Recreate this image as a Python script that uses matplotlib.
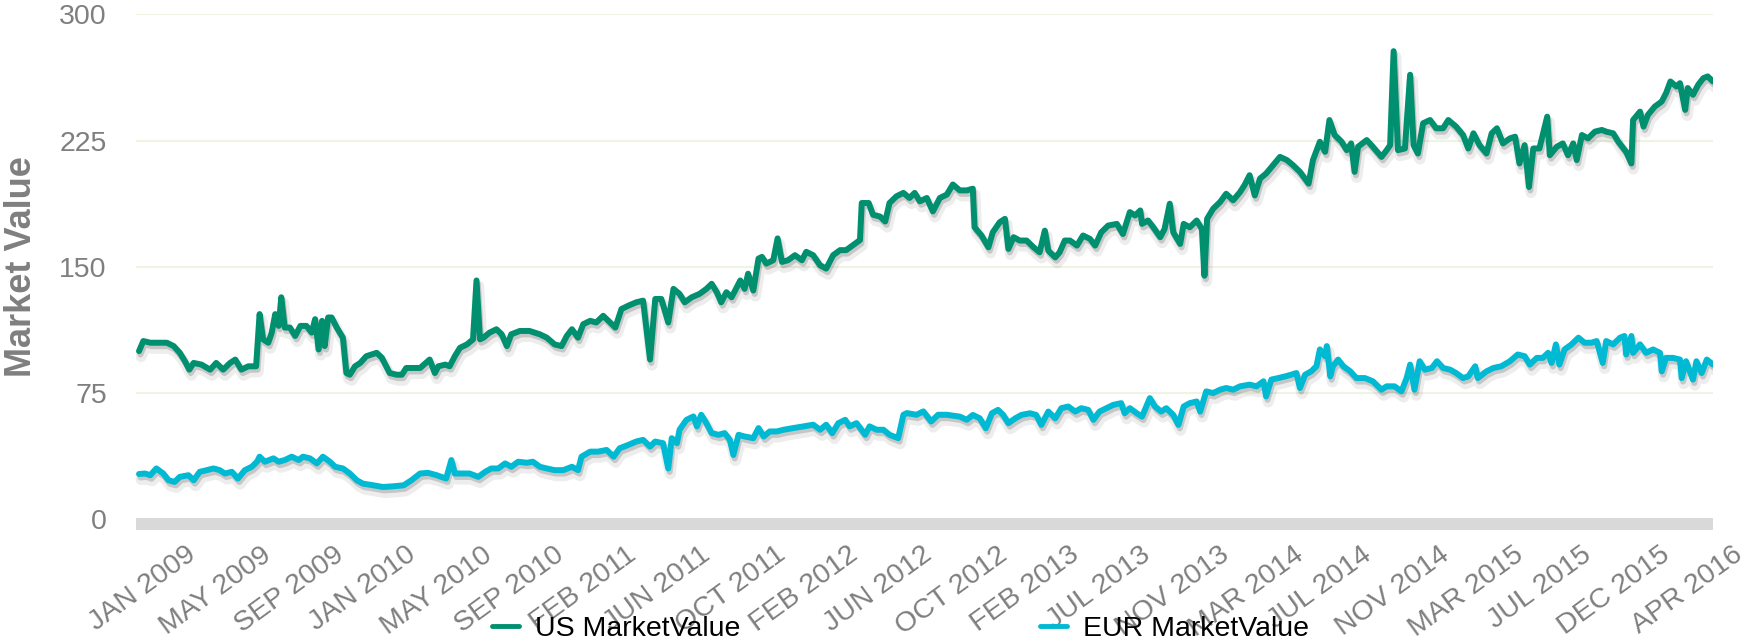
import matplotlib
matplotlib.use('Agg')

import matplotlib.pyplot as plt
import matplotlib.patheffects as pe

plt.rcParams['font.family'] = ['Liberation Sans', 'DejaVu Sans']

# trading-day index (0 = first day of Jan 2009) and market value
us_day = [0, 5, 13, 22, 32, 40, 47, 53, 58, 63, 72, 82, 89, 97, 105, 111, 118, 126, 135, 137,
          139, 143, 149, 153, 157, 161, 164, 168, 174, 180, 186, 193, 199, 203, 207, 211, 214, 218, 222, 228,
          235, 239, 243, 249, 255, 262, 268, 274, 280, 285, 289, 297, 303, 308, 316, 324, 335, 341, 345, 353,
          358, 364, 370, 378, 385, 389, 393, 397, 404, 412, 418, 424, 429, 439, 450,
          462, 470, 479, 487, 493, 499, 506, 512, 520, 527, 535, 541, 549, 556, 564, 573, 581, 589, 595, 602,
          610, 616, 623, 629, 637, 646, 654, 660, 666, 671, 677, 683, 693, 698, 702, 708, 714, 718, 723, 731,
          736, 741, 748, 756, 764, 769, 777, 785, 792, 800, 808, 815, 823, 831, 833, 841, 846, 854, 860, 865,
          873, 881, 888, 894, 900, 908, 915, 923, 931, 938,
          946, 954, 961, 963, 971, 979, 984, 992, 998, 1002, 1008, 1015, 1023, 1031, 1038, 1044, 1048, 1056, 1061, 1067,
          1073, 1081, 1088, 1096, 1102, 1109, 1117, 1127, 1134, 1142, 1148, 1154, 1156, 1163, 1169, 1177, 1182, 1188, 1192, 1200,
          1204, 1211, 1219, 1225, 1228, 1231, 1238, 1246, 1253, 1261, 1269, 1274, 1280, 1286, 1292, 1299, 1307, 1315, 1323, 1330,
          1338, 1348, 1353, 1361, 1367, 1372, 1378, 1386, 1392, 1397, 1401,
          1405, 1415, 1422, 1432, 1438, 1442, 1446, 1451, 1459, 1465, 1469, 1474, 1480, 1488, 1495, 1503, 1509, 1518, 1526, 1532,
          1538, 1545, 1553, 1559, 1565, 1572, 1580, 1586, 1591, 1597, 1602, 1607, 1614, 1623, 1626, 1634, 1641, 1647, 1653, 1657,
          1663, 1670, 1678, 1686, 1691, 1699, 1705, 1711, 1714, 1720, 1722, 1730, 1734, 1739, 1747, 1755, 1760, 1765, 1772, 1776,
          1782, 1785, 1791, 1797, 1803, 1808, 1814]
us_value = [100, 106, 105, 105, 105, 103, 99, 94, 89, 93, 92, 89, 93, 89, 93, 95, 89, 91, 91, 107,
            122, 107, 105, 111, 122, 115, 132, 114, 114, 109, 115, 115, 111, 119, 101, 118, 103, 120, 120, 114,
            108, 87, 86, 91, 93, 97, 98, 99, 96, 91, 87, 86, 86, 90, 90, 90, 95, 87, 91, 92,
            91, 97, 102, 104, 107, 142, 107, 108, 111, 113, 110, 103, 110, 112, 112,
            110, 108, 104, 103, 109, 113, 108, 116, 118, 117, 121, 118, 114, 125, 127, 129, 130, 95, 131, 131,
            117, 137, 134, 129, 132, 134, 137, 140, 135, 129, 135, 132, 142, 137, 146, 136, 155, 156, 152, 154,
            167, 153, 154, 157, 154, 159, 157, 151, 149, 157, 160, 160, 163, 166, 188, 188, 181, 180, 177, 188,
            192, 194, 191, 194, 189, 191, 183, 191, 193, 199,
            195.5, 195.5, 196.5, 173.6, 168.7, 161.7, 170.6, 176.6, 178.6, 160.7, 167.7, 165.7, 165.7, 161.7, 158.7, 171.6, 159.7, 155.7, 158.7, 165.7,
            165.7, 162.7, 168.7, 166.7, 162.7, 170.6, 174.6, 175.6, 169.6, 182.6, 180.6, 183.6, 175.6, 177.6, 173.6, 167.7, 172.6, 187.6, 170.6, 163.7,
            175.6, 173.6, 177.6, 172.6, 144.8, 178.6, 184.6, 188.6, 193.5, 189.6, 194.5, 198.5, 204.5, 192.5, 202.5, 205.5, 210.5, 215.4, 213.5, 210.5,
            206.5, 199.5, 213.5, 224.4, 218.4, 237.3, 228.4, 224.4, 219.4, 223.4, 206.5,
            221.4, 225.4, 221.4, 215.4, 219.4, 222.4, 278.2, 219.4, 220.4, 264.2, 222.4, 217.4, 235.4, 237.3, 232.4, 232.4, 237.3, 233.4, 228.4, 220.4,
            229.4, 222.4, 217.4, 229.4, 232.4, 223.4, 226.4, 227.4, 211.5, 222.4, 197.5, 220.4, 220.4, 239.3, 216.4, 221.4, 223.4, 216.4, 223.4, 213.5,
            228.4, 226.4, 230.4, 231.4, 230.4, 229.4, 224.4, 220.4, 218.4, 211.5, 237.3, 242.3, 233.4, 240.3, 245.3, 248.3, 253.3, 260.2, 257.2, 259.2,
            243.3, 256.3, 252.3, 258.2, 262.2, 263.2, 260.2]

eur_day = [0, 7, 13, 20, 28, 34, 41, 47, 57, 63, 70, 78, 86, 93, 99, 107, 114, 122, 130, 136,
           139, 145, 155, 161, 168, 176, 184, 189, 197, 205, 212, 220, 226, 235, 243, 251, 258, 270, 281, 293,
           305, 314, 324, 333, 343, 354, 360, 364, 374, 381, 391, 399, 406, 414, 422, 429, 437, 447, 454,
           462, 470, 479, 489, 499, 506, 510, 520, 529, 539, 547, 554, 564, 573, 581, 589, 595, 604, 610, 614,
           620, 623, 631, 639, 643, 648, 654, 660, 668, 675, 681, 685, 691, 698, 708, 714, 720, 727, 735, 743,
           754, 766, 777, 785, 792, 799, 806, 814, 819, 827, 837, 842, 850, 858, 865, 875, 881, 885, 896, 904,
           913, 921, 931,
           946, 954, 961, 969, 976, 983, 990, 996, 1002, 1010, 1017, 1027, 1034, 1040, 1048, 1056, 1063, 1071, 1079, 1086,
           1094, 1100, 1107, 1115, 1123, 1132, 1136, 1142, 1150, 1156, 1165, 1171, 1178, 1184, 1192, 1198, 1204, 1211, 1219, 1223,
           1230, 1238, 1246, 1253, 1261, 1269, 1280, 1288, 1296, 1299, 1305, 1313, 1321, 1328, 1334, 1338, 1344, 1351, 1357, 1361,
           1367, 1369, 1373, 1376, 1382, 1388, 1396,
           1403, 1413, 1422, 1432, 1438, 1447, 1455, 1461, 1465, 1470, 1476, 1482, 1490, 1496, 1503, 1511, 1518, 1526, 1532, 1540,
           1543, 1553, 1561, 1570, 1580, 1589, 1597, 1603, 1611, 1618, 1624, 1628, 1633, 1637, 1643, 1651, 1659, 1666, 1674, 1680,
           1687, 1691, 1699, 1707, 1712, 1714, 1720, 1722, 1730, 1737, 1745, 1753, 1755, 1760, 1768, 1776, 1778, 1783, 1791, 1795,
           1801, 1807, 1814]
eur_value = [27, 27.3, 26.3, 30.3, 27.3, 23.3, 22.3, 25.3, 26.3, 23.3, 28.3, 29.3, 30.3, 29.3, 27.3, 28.3, 24.3, 29.3, 31.3, 34.3,
             37.3, 34.3, 36.3, 34.3, 35.3, 37.3, 35.3, 37.3, 36.3, 33.3, 37.3, 34.3, 31.3, 30.3, 27.3, 23.3, 21.3, 20.3, 19.3, 19.7,
             20.3, 23.3, 27.3, 27.7, 26.3, 24.3, 35.3, 27.3, 27.3, 27.3, 25.3, 28.3, 30.3, 30.3, 33.3, 31.3, 34.3, 33.7, 34.3,
             31.3, 30.3, 29.3, 29.3, 31.3, 29.3, 37.3, 40.3, 40.3, 41.3, 37.3, 42.3, 44.3, 46.3, 47.3, 43.3, 46.3, 45.3, 30.3, 48.3,
             45.3, 53.3, 59.2, 61.2, 55.3, 62.2, 57.2, 51.3, 50.3, 51.3, 47.3, 38.3, 50.3, 49.3, 48.3, 54.3, 49.3, 52.3, 52.3, 53.3,
             54.3, 55.3, 56.3, 53.3, 56.3, 51.3, 57.2, 59.2, 55.3, 57.2, 50.3, 55.3, 53.3, 53.3, 50.3, 48.3, 62.2, 63.2, 62.2, 64.2,
             58.2, 62.2, 62.2,
             61.1, 59.2, 62.1, 60.1, 54.2, 63.1, 65.1, 62.1, 57.2, 60.1, 62.1, 63.1, 62.1, 56.2, 64.1, 60.1, 66.1, 67.1, 64.1, 66.1,
             65.1, 59.2, 64.1, 66.1, 68.1, 69.1, 63.1, 66.1, 63.1, 61.1, 72.1, 67.1, 64.1, 66.1, 62.1, 56.2, 67.1, 69.1, 70.1, 64.1,
             76.1, 75.1, 77.1, 78.1, 77.1, 79.1, 80.1, 79.1, 82.1, 73.1, 83.1, 84.0, 85.0, 86.0, 87.0, 78.1, 86.0, 88.0, 91.0, 101.0,
             97.0, 103.0, 85.0, 91.0, 95.0, 91.0, 88.0,
             84.0, 84.0, 82.1, 77.1, 79.1, 79.1, 76.1, 84.0, 92.0, 77.1, 94.0, 89.0, 90.0, 94.0, 90.0, 89.0, 87.0, 84.0, 85.0, 91.0,
             84.0, 88.0, 90.0, 91.0, 94.0, 98.0, 97.0, 92.0, 96.0, 96.0, 99.0, 93.0, 104.0, 92.0, 101.0, 104.0, 108.0, 105.0, 105.0, 106.0,
             93.0, 106.0, 104.0, 108.0, 109.0, 98.0, 109.0, 99.0, 104.0, 99.0, 101.0, 99.0, 88.0, 96.0, 96.0, 95.0, 84.0, 94.0, 83.1, 94.0,
             87.0, 95.0, 92.0]

tick_day = [3.5, 88.3, 173.1, 258, 342.7, 427.5, 512.4, 597.2, 682, 766.8, 851.6,
            936.4, 1021.2, 1106, 1190.8, 1275.7, 1360.5, 1445.3, 1530, 1614.9, 1699.7, 1784.5]
tick_label = ['JAN 2009', 'MAY 2009', 'SEP 2009', 'JAN 2010', 'MAY 2010', 'SEP 2010',
              'FEB 2011', 'JUN 2011', 'OCT 2011', 'FEB 2012', 'JUN 2012', 'OCT 2012',
              'FEB 2013', 'JUL 2013', 'NOV 2013', 'MAR 2014', 'JUL 2014', 'NOV 2014',
              'MAR 2015', 'JUL 2015', 'DEC 2015', 'APR 2016']
y_ticks = [0, 75, 150, 225, 300]

US_COLOR = '#008f6f'
EUR_COLOR = '#00b9d3'
GREY = '#7f7f7f'

fig = plt.figure(figsize=(17.52, 6.41), dpi=100)
ax = fig.add_axes([0.0776, 0.1896, 0.9001, 0.7878])

shadow = [pe.SimpleLineShadow(offset=(1.5, -4), shadow_color='black', alpha=0.07, linewidth=8),
          pe.SimpleLineShadow(offset=(1, -2.5), shadow_color='black', alpha=0.16),
          pe.Normal()]

ax.plot(us_day, us_value, color=US_COLOR, lw=4.3, solid_joinstyle='round',
        solid_capstyle='round', label='US MarketValue', path_effects=shadow, zorder=3)
ax.plot(eur_day, eur_value, color=EUR_COLOR, lw=4.3, solid_joinstyle='round',
        solid_capstyle='round', label='EUR MarketValue', path_effects=shadow, zorder=3)

# grey base band at zero
ax.axhline(-2.5, color='#d9d9d9', lw=8.6, solid_capstyle='butt', clip_on=False, zorder=1)

ax.set_xlim(-3.5, 1814)
ax.set_ylim(0, 300)
ax.set_yticks(y_ticks)
for v in y_ticks[1:]:
    ax.axhline(v, color='#eef4e3', lw=1.5, zorder=0)

ax.set_xticks(tick_day)
ax.set_xticklabels(tick_label, rotation=36, ha='center', va='top')
ax.tick_params(axis='x', length=0, pad=16, labelsize=20.5, labelcolor=GREY)
ax.tick_params(axis='y', length=0, pad=21, labelsize=20.5, labelcolor=GREY)
for s in ax.spines.values():
    s.set_visible(False)

fig.text(0.012, 0.5835, 'Market Value', rotation=90, ha='center', va='center',
         fontsize=26, fontweight='bold', color=GREY)

leg = fig.legend(loc='center', bbox_to_anchor=(0.514, 0.019), ncol=2, frameon=False,
                 fontsize=20.5, handlelength=0.95, handletextpad=0.55, columnspacing=10.55,
                 borderpad=0, borderaxespad=0)
for h in leg.get_lines():
    h.set_linewidth(3.5)
    h.set_path_effects([])

fig.savefig('out.png', dpi=100)
